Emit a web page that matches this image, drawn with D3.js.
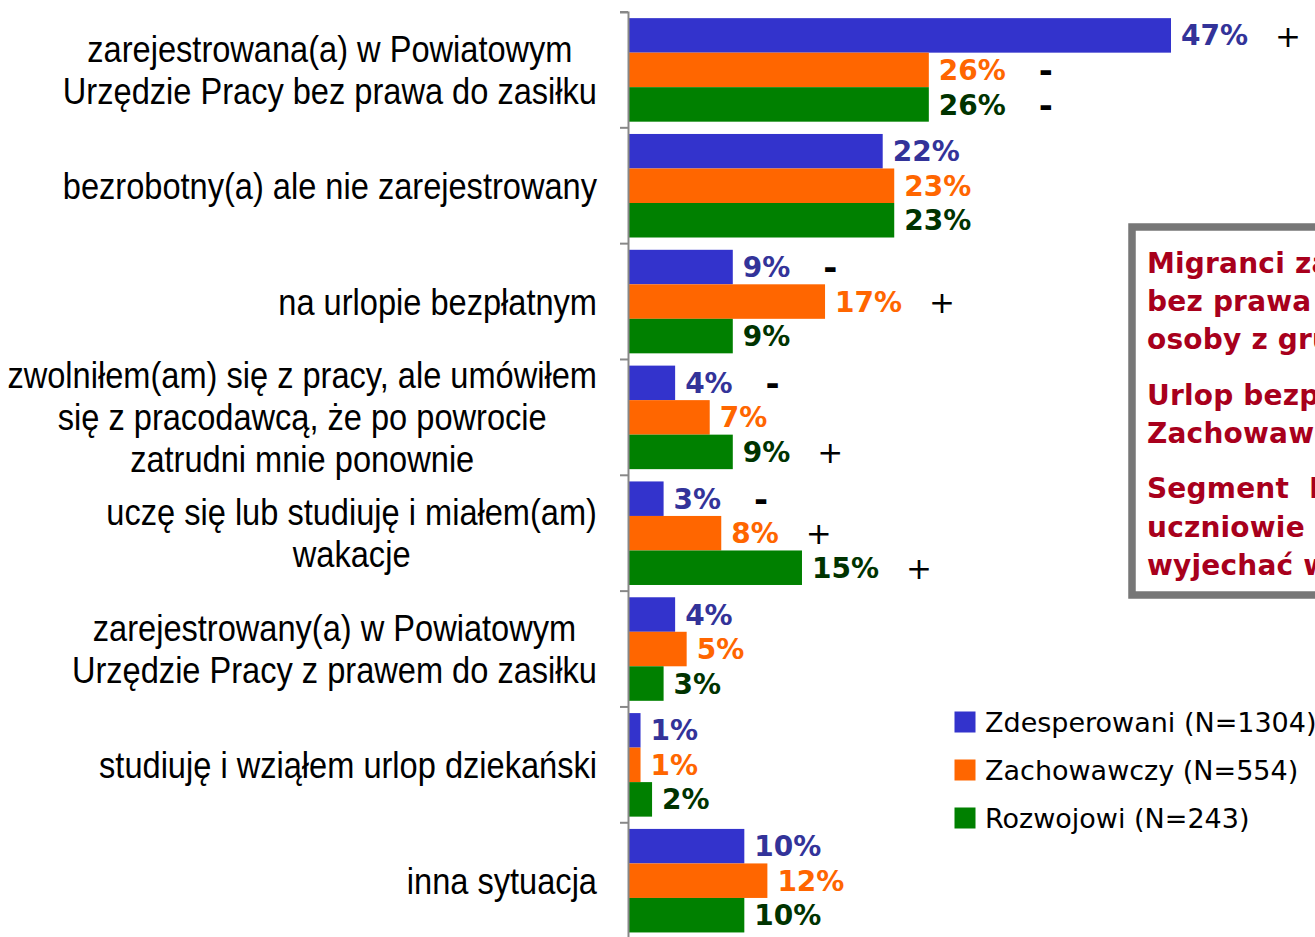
<!DOCTYPE html>
<html lang="pl">
<head>
<meta charset="utf-8">
<script src="https://cdn.jsdelivr.net/npm/d3@7/dist/d3.min.js"></script>
<style>
  html, body { margin: 0; padding: 0; background: #fff; }
  svg { display: block; }
</style>
</head>
<body>
<svg id="chart" width="1315" height="937"></svg>
<script>
// Kategorie sytuacji zawodowej (podział na wiersze przez "\n")
const categories = [
  "zarejestrowana(a) w Powiatowym\nUrzędzie Pracy bez prawa do zasiłku",
  "bezrobotny(a) ale nie zarejestrowany",
  "na urlopie bezpłatnym",
  "zwolniłem(am) się z pracy, ale umówiłem\nsię z pracodawcą, że po powrocie\nzatrudni mnie ponownie",
  "uczę się lub studiuję i miałem(am)\nwakacje",
  "zarejestrowany(a) w Powiatowym\nUrzędzie Pracy z prawem do zasiłku",
  "studiuję i wziąłem urlop dziekański",
  "inna sytuacja"
];

// Segmenty migrantów
const seriesNames = [
  "Zdesperowani (N=1304)",
  "Zachowawczy (N=554)",
  "Rozwojowi (N=243)"
];

// Odsetki (%) w każdym segmencie
const zdesperowani = [47, 22, 9, 4, 3, 4, 1, 10];
const zachowawczy  = [26, 23, 17, 7, 8, 5, 1, 12];
const rozwojowi    = [26, 23, 9, 9, 15, 3, 2, 10];

// Istotne różnice: kategoria, segment, znak
const signCategory = [0, 0, 0, 2, 2, 3, 3, 4, 4, 4];
const signSeries   = [0, 1, 2, 0, 1, 0, 2, 0, 1, 2];
const signText     = ["+", "-", "-", "-", "+", "-", "+", "-", "+", "+"];

// Komentarz w ramce
const noteParagraphs = [
  ["Migranci zarejestrowani w PUP", "bez prawa do zasiłku to częściej", "osoby z grupy Zdesperowanych"],
  ["Urlop bezpłatny – częściej", "Zachowawczy"],
  ["Segment  Rozwojowi to częściej", "uczniowie i studenci, którzy mogli", "wyjechać w wakacje"]
];

const values = [zdesperowani, zachowawczy, rozwojowi];
const barColors = ["#3333CC", "#FF6600", "#008000"];
const labelColors = ["#333399", "#FF6600", "#003300"];

const svg = d3.select("#chart");

const y = d3.scaleBand()
  .domain(d3.range(categories.length))
  .range([12, 938.6])
  .paddingInner(0)
  .paddingOuter(0);

const ySub = d3.scaleBand()
  .domain(d3.range(seriesNames.length))
  .range([0, y.bandwidth()])
  .paddingInner(0)
  .paddingOuter(0.178);

const x = d3.scaleLinear().domain([0, 47]).range([629, 1171]);

// Bars
const rows = [];
values.forEach((arr, s) => arr.forEach((v, c) => rows.push({ c, s, v })));

svg.append("g")
  .selectAll("rect")
  .data(rows)
  .join("rect")
  .attr("x", x(0))
  .attr("y", d => y(d.c) + ySub(d.s))
  .attr("width", d => x(d.v) - x(0))
  .attr("height", ySub.bandwidth())
  .attr("fill", d => barColors[d.s]);

// Value labels
const labelEnds = {};
svg.append("g")
  .selectAll("text")
  .data(rows)
  .join("text")
  .attr("x", d => x(d.v) + 10)
  .attr("y", d => y(d.c) + ySub(d.s) + ySub.bandwidth() / 2)
  .attr("dy", "0.36em")
  .attr("font-family", "DejaVu Sans, Verdana, sans-serif")
  .attr("font-weight", "bold")
  .attr("font-size", 28)
  .attr("fill", d => labelColors[d.s])
  .text(d => d.v + "%")
  .each(function (d) {
    labelEnds[d.c + "_" + d.s] = x(d.v) + 10 + this.getComputedTextLength();
  });

// Significance marks (+ / -)
const signs = signText.map((t, i) => ({ c: signCategory[i], s: signSeries[i], t }));
svg.append("g")
  .selectAll("text")
  .data(signs)
  .join("text")
  .attr("x", d => labelEnds[d.c + "_" + d.s] + 40)
  .attr("y", d => y(d.c) + ySub(d.s) + ySub.bandwidth() / 2)
  .attr("dy", "0.36em")
  .attr("text-anchor", "middle")
  .attr("font-family", "DejaVu Sans, Verdana, sans-serif")
  .attr("font-weight", d => d.t === "+" ? "normal" : "bold")
  .attr("font-size", d => d.t === "+" ? 31 : 34)
  .attr("fill", "#000")
  .text(d => d.t);

// Category axis: vertical line with boundary ticks
const axis = d3.axisLeft(y).tickSize(0).tickSizeOuter(8).tickFormat("");
const axisG = svg.append("g")
  .attr("transform", "translate(628,0)")
  .call(axis);
axisG.selectAll(".tick").remove();
axisG.select(".domain").attr("stroke", "#888").attr("stroke-width", 2);
const bounds = d3.range(categories.length + 1).map(i => y.range()[0] + i * y.step());
axisG.selectAll(".bound")
  .data(bounds)
  .join("line")
  .attr("class", "bound")
  .attr("x1", -8).attr("x2", 0)
  .attr("y1", d => d).attr("y2", d => d)
  .attr("stroke", "#888")
  .attr("stroke-width", 2);

// Category labels (centred lines, block aligned to the right, narrowed type)
const squeeze = 0.905;
const catG = svg.append("g")
  .attr("font-family", "Liberation Sans, Arial, sans-serif")
  .attr("font-size", 36)
  .attr("fill", "#000");
categories.forEach((label, c) => {
  const lines = label.split("\n");
  const g = catG.append("g");
  const texts = lines.map((ln, i) =>
    g.append("text")
      .attr("x", 0).attr("y", 0)
      .attr("dy", "0.36em")
      .attr("text-anchor", "middle")
      .text(ln));
  const maxW = d3.max(texts, t => t.node().getComputedTextLength()) * squeeze;
  texts.forEach((t, i) => {
    const cy = y(c) + y.bandwidth() / 2 + (i - (lines.length - 1) / 2) * 42;
    t.attr("transform", `translate(${597 - maxW / 2},${cy}) scale(${squeeze},1)`);
  });
});

// Legend
const legend = svg.append("g").attr("transform", "translate(954.5,711.5)");
seriesNames.forEach((name, i) => {
  legend.append("rect")
    .attr("x", 0).attr("y", i * 48)
    .attr("width", 21).attr("height", 21)
    .attr("fill", barColors[i]);
  legend.append("text")
    .attr("x", 30.5).attr("y", i * 48 + 20.5)
    .attr("font-family", "DejaVu Sans, Verdana, sans-serif")
    .attr("font-size", 27)
    .attr("fill", "#000")
    .text(name);
});

// Note box
const note = svg.append("g");
note.append("rect")
  .attr("x", 1132).attr("y", 227)
  .attr("width", 400).attr("height", 368)
  .attr("fill", "#fff")
  .attr("stroke", "#777")
  .attr("stroke-width", 7.5);
const baselines = [[273, 311, 349], [405, 443], [498, 537, 575]];
noteParagraphs.forEach((para, p) => {
  para.forEach((ln, i) => {
    note.append("text")
      .attr("x", 1147)
      .attr("y", baselines[p][i])
      .attr("font-family", "DejaVu Sans, Verdana, sans-serif")
      .attr("font-weight", "bold")
      .attr("font-size", 28)
      .attr("letter-spacing", 0.2)
      .attr("fill", "#A8001C")
      .attr("xml:space", "preserve")
      .text(ln);
  });
});
</script>
</body>
</html>
